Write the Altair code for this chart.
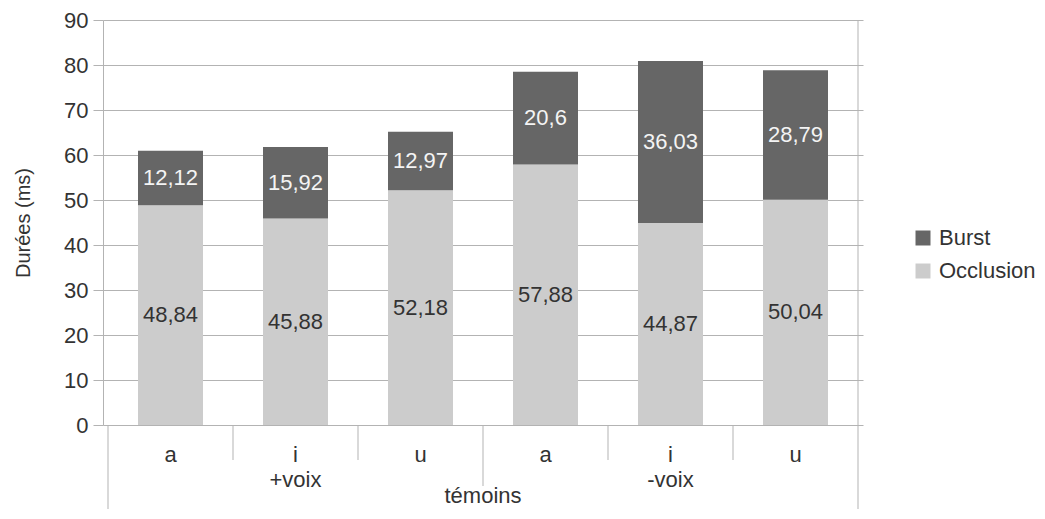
import altair as alt
import pandas as pd

# ---- data ----
categories = ["a", "i", "u", "a", "i", "u"]
groups = ["+voix", "+voix", "+voix", "-voix", "-voix", "-voix"]
group_names = ["+voix", "-voix"]
outer_label = "témoins"
occlusion = [48.84, 45.88, 52.18, 57.88, 44.87, 50.04]
burst = [12.12, 15.92, 12.97, 20.6, 36.03, 28.79]
y_ticks = [0, 10, 20, 30, 40, 50, 60, 70, 80, 90]
series = ["Burst", "Occlusion"]
colors = ["#666666", "#cccccc"]

FONT = "Liberation Sans"
TEXT = "#333333"
LINE = "#b3b3b3"


def fr(v):
    s = ("%g" % v)
    return s.replace(".", ",")


rows = []
for i, (o, b) in enumerate(zip(occlusion, burst)):
    rows.append(dict(idx=i, serie="Occlusion", start=0.0, end=o, mid=o / 2, label=fr(o)))
    rows.append(dict(idx=i, serie="Burst", start=o, end=o + b, mid=o + b / 2, label=fr(b)))
df = pd.DataFrame(rows)

cat_df = pd.DataFrame({"idx": list(range(len(categories))), "cat": categories})
grp_df = pd.DataFrame({
    "pos": [sum(i for i, g in enumerate(groups) if g == n) / groups.count(n) for n in group_names],
    "name": group_names,
})
outer_df = pd.DataFrame({"pos": [(len(categories) - 1) / 2], "name": [outer_label]})

n = len(categories)
inner_b = pd.DataFrame({"pos": [i + 0.5 for i in range(n - 1) if groups[i] == groups[i + 1]]})
group_b = pd.DataFrame({"pos": [i + 0.5 for i in range(n - 1) if groups[i] != groups[i + 1]]})
left_b = pd.DataFrame({"pos": [-0.5]})
right_b = pd.DataFrame({"pos": [n - 0.5]})

xscale = alt.Scale(domain=[-0.5, n - 0.5], nice=False, zero=False)
yscale = alt.Scale(domain=[0, 90], nice=False)

bars = alt.Chart(df).mark_bar(size=65, strokeWidth=0).encode(
    x=alt.X("idx:Q", scale=xscale, axis=None),
    y=alt.Y("start:Q", scale=yscale,
            axis=alt.Axis(values=y_ticks, title="Durées (ms)", grid=True)),
    y2="end:Q",
    color=alt.Color("serie:N",
                    scale=alt.Scale(domain=series, range=colors),
                    legend=alt.Legend(orient="none", legendX=809, legendY=207,
                                      title=None, symbolType="square",
                                      symbolSize=225, symbolStrokeWidth=0,
                                      labelFontSize=22, labelColor=TEXT,
                                      labelFont=FONT, rowPadding=11,
                                      labelOffset=5, padding=0)),
)

lab_burst = alt.Chart(df).transform_filter(alt.datum.serie == "Burst").mark_text(
    font=FONT, fontSize=22, color="#f4f4f4", baseline="middle"
).encode(x=alt.X("idx:Q", scale=xscale), y=alt.Y("mid:Q", scale=yscale), text="label:N")

lab_occ = alt.Chart(df).transform_filter(alt.datum.serie == "Occlusion").mark_text(
    font=FONT, fontSize=22, color=TEXT, baseline="middle"
).encode(x=alt.X("idx:Q", scale=xscale), y=alt.Y("mid:Q", scale=yscale), text="label:N")

cat_text = alt.Chart(cat_df).mark_text(
    font=FONT, fontSize=22, color=TEXT, baseline="alphabetic"
).encode(x=alt.X("idx:Q", scale=xscale), y=alt.value(442), text="cat:N")

grp_text = alt.Chart(grp_df).mark_text(
    font=FONT, fontSize=22, color=TEXT, baseline="alphabetic"
).encode(x=alt.X("pos:Q", scale=xscale), y=alt.value(467), text="name:N")

outer_text = alt.Chart(outer_df).mark_text(
    font=FONT, fontSize=22, color=TEXT, baseline="alphabetic"
).encode(x=alt.X("pos:Q", scale=xscale), y=alt.value(483), text="name:N")


def rule(d, y0, y1):
    return alt.Chart(d).mark_rule(color=LINE, strokeWidth=1).encode(
        x=alt.X("pos:Q", scale=xscale), y=alt.value(y0), y2=alt.value(y1))


chart = alt.layer(
    bars, lab_burst, lab_occ, cat_text, grp_text, outer_text,
    rule(inner_b, 405, 440), rule(group_b, 405, 466),
    rule(left_b, 405, 489), rule(right_b, 0, 489),
).properties(
    width=760, height=405,
    autosize=alt.AutoSizeParams(type="none"),
    padding={"left": 95, "top": 12, "right": 174, "bottom": 84},
).configure_view(stroke=None).configure_axis(
    labelFont=FONT, titleFont=FONT, labelFontSize=22, labelColor=TEXT,
    titleFontSize=20, titleFontWeight="normal", titleColor=TEXT,
    domainColor=LINE, tickColor=LINE, tickSize=10, gridColor=LINE,
    labelPadding=5, titlePadding=30,
)

chart.save("out.html", embed_options={"renderer": "svg", "actions": False})
